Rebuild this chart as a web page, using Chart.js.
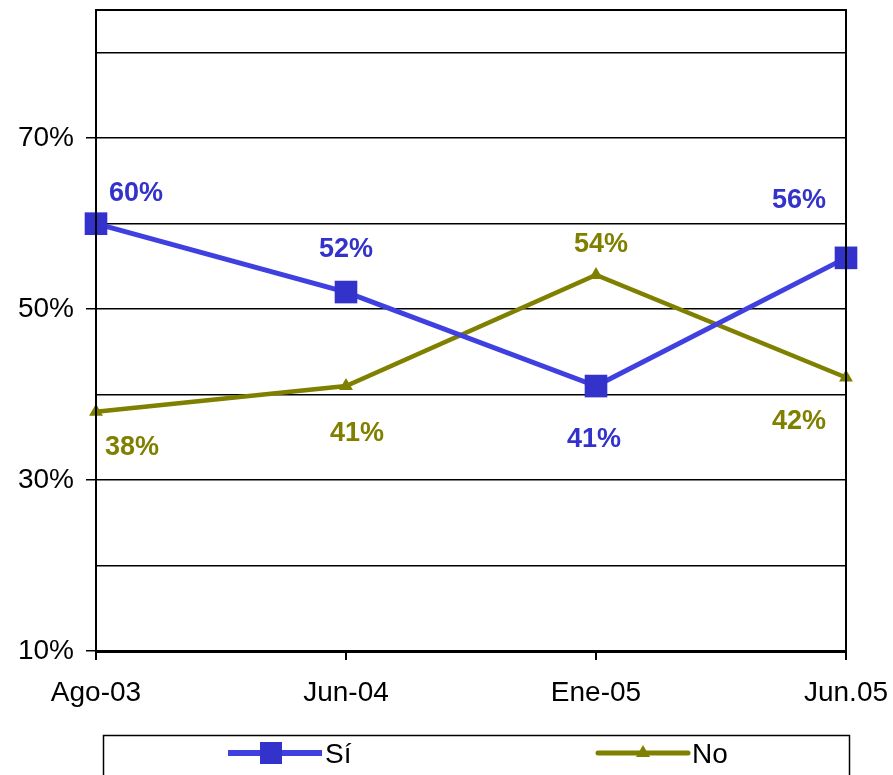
<!DOCTYPE html>
<html>
<head>
<meta charset="utf-8">
<script src="https://cdn.jsdelivr.net/npm/chart.js@4"></script>
<style>
  html, body { margin: 0; padding: 0; background: #fff; overflow: hidden; }
  #wrap { width: 893px; height: 781px; margin-top: -6px; }
</style>
</head>
<body>
<div id="wrap"><canvas id="encuesta"></canvas></div>
<script>
// datos
const periodos = ["Ago-03", "Jun-04", "Ene-05", "Jun.05"];
const valoresSi = [60, 52, 41, 56];
const valoresNo = [38, 41, 54, 42];
const etiquetasY = [10, 30, 50, 70];

const azul = "#3333CC";
const oliva = "#808000";

// offsets of the value labels (px), like in the excel original
const offsetsSi = [[40, -30], [0, -42], [-2, 53], [-47, -57]];
const offsetsNo = [[36, 36], [11, 47], [5, -30], [-47, 44]];

const valueLabels = {
  id: "valueLabels",
  afterDatasetsDraw(chart) {
    const ctx = chart.ctx;
    ctx.save();
    ctx.font = "bold 27px 'Liberation Sans', Arial, sans-serif";
    ctx.textAlign = "center";
    ctx.textBaseline = "middle";
    chart.data.datasets.forEach((ds, i) => {
      const offs = i === 0 ? offsetsSi : offsetsNo;
      chart.getDatasetMeta(i).data.forEach((pt, j) => {
        ctx.fillStyle = ds.borderColor;
        ctx.fillText(ds.data[j] + "%", pt.x + offs[j][0], pt.y + offs[j][1]);
      });
    });
    ctx.restore();
  }
};

const plotFrame = {
  id: "plotFrame",
  afterDraw(chart) {
    const a = chart.chartArea;
    const ctx = chart.ctx;
    ctx.save();
    ctx.strokeStyle = "#000";
    ctx.lineWidth = 2;
    ctx.strokeRect(a.left, a.top, a.right - a.left, a.bottom - a.top);

    // legend box under the axis
    const top = a.bottom + 84;
    ctx.lineWidth = 1.5;
    ctx.strokeRect(103.5, top + 0.5, 746, 60);
    ctx.font = "28px 'Liberation Sans', Arial, sans-serif";
    ctx.textBaseline = "middle";
    ctx.fillStyle = "#000";
    const y = top + 18;
    // Sí
    ctx.strokeStyle = "#4040E0";
    ctx.lineWidth = 6;
    ctx.beginPath(); ctx.moveTo(228, y); ctx.lineTo(322, y); ctx.stroke();
    ctx.fillStyle = azul;
    ctx.fillRect(260, y - 11, 22, 22);
    ctx.fillStyle = "#000";
    ctx.fillText("Sí", 325, y + 2);
    // No
    ctx.strokeStyle = oliva;
    ctx.lineWidth = 5;
    ctx.lineCap = "round";
    ctx.beginPath(); ctx.moveTo(598, y); ctx.lineTo(688, y); ctx.stroke();
    ctx.fillStyle = oliva;
    ctx.beginPath();
    ctx.moveTo(643, y - 8); ctx.lineTo(650, y + 4); ctx.lineTo(636, y + 4);
    ctx.closePath(); ctx.fill();
    ctx.fillStyle = "#000";
    ctx.fillText("No", 692, y + 2);
    ctx.restore();
  }
};

new Chart(document.getElementById("encuesta"), {
  type: "line",
  data: {
    labels: periodos,
    datasets: [
      {
        label: "Sí",
        data: valoresSi,
        borderColor: azul,
        borderWidth: 5,
        backgroundColor: azul,
        pointStyle: "rect",
        pointRadius: 16,
        pointBackgroundColor: azul,
        pointBorderWidth: 0,
        tension: 0,
        segment: { borderColor: "#4040E0" },
      },
      {
        label: "No",
        data: valoresNo,
        borderColor: oliva,
        borderWidth: 4.5,
        backgroundColor: oliva,
        pointStyle: "triangle",
        pointRadius: 8,
        pointBorderWidth: 0,
        tension: 0,
      },
    ],
  },
  options: {
    responsive: true,
    maintainAspectRatio: false,
    animation: false,
    layout: { padding: { top: 10, right: 47, left: 0, bottom: 64 } },
    plugins: {
      legend: { display: false },
      tooltip: { enabled: false },
    },
    scales: {
      x: {
        offset: false,
        grid: {
          drawOnChartArea: false,
          color: "#000",
          lineWidth: 2,
          tickLength: 9,
        },
        border: { color: "#000", width: 3 },
        ticks: {
          color: "#000",
          padding: 16,
          maxRotation: 0,
          font: { family: "'Liberation Sans', Arial, sans-serif", size: 28 },
        },
        afterFit(scale) {
          scale.height = 60;
          scale.paddingLeft = 0;
          scale.paddingRight = 0;
        },
      },
      y: {
        min: 10,
        max: 85,
        grid: {
          color: "#000",
          lineWidth: 1.5,
          tickLength: 10,
          tickColor: (c) => (c.tick && etiquetasY.includes(c.tick.value) ? "#000" : "rgba(0,0,0,0)"),
        },
        border: { color: "#000", width: 2 },
        ticks: {
          stepSize: 10,
          color: "#000",
          padding: 12,
          font: { family: "'Liberation Sans', Arial, sans-serif", size: 28 },
          callback: (v) => (etiquetasY.includes(v) ? v + "%" : ""),
        },
        afterFit(scale) {
          scale.width = 96;
          scale.paddingTop = 0;
          scale.paddingBottom = 0;
        },
      },
    },
  },
  plugins: [valueLabels, plotFrame],
});
</script>
</body>
</html>
